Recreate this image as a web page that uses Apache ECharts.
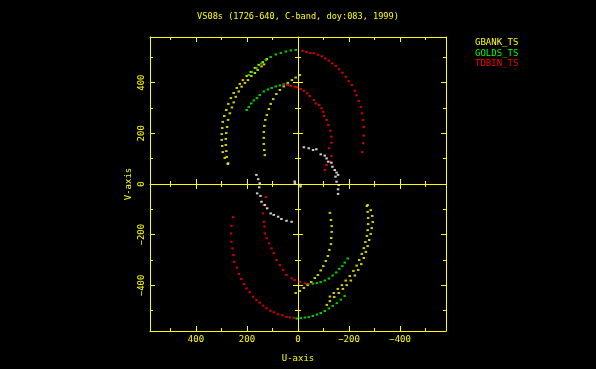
<!DOCTYPE html>
<html>
<head>
<meta charset="utf-8">
<script src="https://cdn.jsdelivr.net/npm/echarts@6/dist/echarts.min.js"></script>
<style>
html,body{margin:0;padding:0;background:#000;}
#chart{width:596px;height:369px;}
</style>
</head>
<body>
<div id="chart"></div>
<script>
// ---- Data (u, v) ----
const titleText = 'VS08s (1726-640, C-band, doy:083, 1999)';
const seriesNames = ['GBANK_TS', 'GOLDS_TS', 'TDBIN_TS'];
const majorTicks = [-400, -200, 0, 200, 400];
const minorTicks = [-500, -300, -100, 100, 300, 500];

// GBANK_TS (yellow)
const gbankOuterUpper = [[275,79],[287,103],[295,126],[297,150],[299,174],[299,197],[297,221],[295,245],[289,268],[281,292],[273,316],[263,339],[252,359],[240,379],[228,395],[216,410],[201,426],[185,442],[169,458],[154,470],[138,481],[122,493]];
const gbankOuterUpper2 = [[274,82],[279,107],[281,130],[283,154],[283,178],[281,201],[278,225],[274,253],[267,279],[259,302],[252,322],[244,344],[232,365],[221,384],[208,399],[196,410],[183,426],[169,438],[158,450],[143,464],[133,472]];
const gbankInnerUpper = [[130,114],[132,134],[134,158],[134,182],[134,205],[132,229],[128,253],[122,272],[114,296],[107,316],[97,335],[85,355],[71,371],[56,385],[40,399],[24,410],[9,420],[-7,430]];
const gbankInnerLower = [[-125,-114],[-129,-142],[-132,-166],[-132,-189],[-130,-213],[-129,-237],[-123,-260],[-117,-284],[-109,-304],[-99,-324],[-89,-341],[-78,-359],[-66,-371],[-52,-387],[-38,-399],[-23,-410],[-7,-422],[9,-430]];
const gbankOuterLower = [[-273,-83],[-285,-103],[-291,-126],[-293,-150],[-289,-174],[-285,-197],[-279,-221],[-273,-245],[-266,-268],[-258,-292],[-248,-316],[-236,-339],[-223,-361],[-207,-381],[-191,-399],[-176,-414],[-160,-430],[-142,-446],[-125,-462],[-113,-477]];
const gbankOuterLower2 = [[-270,-87],[-273,-110],[-275,-134],[-275,-158],[-273,-182],[-270,-205],[-264,-229],[-258,-253],[-250,-276],[-240,-300],[-230,-322],[-217,-343],[-203,-363],[-187,-381],[-172,-399],[-156,-414],[-140,-430],[-125,-444]];

// GOLDS_TS (green)
const goldsOuterUpper = [[193,430],[181,442],[163,458],[144,475],[126,489],[107,501],[87,511],[67,517],[48,523],[28,527],[9,529]];
const goldsInnerUpper = [[201,292],[193,304],[183,318],[173,330],[161,339],[150,351],[134,365],[118,373],[103,379],[87,385],[71,389],[56,393],[40,395]];
const goldsInnerLower = [[-38,-395],[-58,-393],[-74,-391],[-89,-387],[-105,-381],[-121,-373],[-136,-361],[-150,-349],[-162,-335],[-174,-324],[-183,-310],[-195,-294]];
const goldsOuterLower = [[5,-531],[-11,-529],[-27,-527],[-42,-525],[-58,-521],[-74,-515],[-89,-509],[-105,-501],[-121,-491],[-136,-481],[-152,-470],[-168,-456],[-183,-442]];

// TDBIN_TS (red)
const tdbinOuterUpper = [[-18,526],[-33,521],[-49,517],[-62,516],[-79,510],[-94,504],[-107,495],[-121,487],[-134,476],[-148,466],[-161,453],[-174,439],[-187,423],[-199,406],[-211,391],[-223,368],[-229,350],[-238,328],[-246,304],[-251,279],[-255,253],[-258,225],[-258,191],[-255,161],[-251,126]];
const tdbinOuterLower = [[254,-131],[261,-165],[262,-195],[261,-228],[257,-254],[253,-280],[250,-307],[239,-330],[232,-355],[222,-375],[212,-395],[202,-412],[189,-427],[176,-445],[163,-458],[150,-468],[137,-480],[123,-490],[108,-500],[95,-506],[78,-514],[62,-518],[45,-524],[32,-526],[16,-528]];
const tdbinInnerUpper = [[56,393],[40,391],[28,387],[13,384],[4,382],[-10,375],[-23,368],[-36,358],[-46,347],[-62,331],[-70,318],[-83,312],[-92,299],[-98,285],[-102,268],[-112,253],[-118,233],[-127,210],[-131,187],[-131,163],[-122,141],[-131,110],[-125,88],[-112,75],[-105,55]];
const tdbinInnerLower = [[126,-51],[134,-83],[137,-116],[134,-149],[131,-168],[130,-195],[123,-214],[113,-234],[104,-254],[95,-273],[84,-300],[71,-320],[58,-339],[45,-359],[25,-372],[13,-379],[-7,-386],[-27,-392],[-42,-395]];

// Unlabelled short baseline (white)
const whiteUpper = [[-23,145],[-42,141],[-59,134],[-72,137],[-89,117],[-105,112],[-112,101],[-118,88],[-131,84],[-135,68],[-144,55],[-151,45],[-157,36],[-147,29],[-151,9],[-160,-4],[-157,-21],[-157,-39]];
const whiteLower = [[163,36],[156,19],[150,3],[152,-13],[160,-37],[147,-47],[143,-70],[130,-83],[121,-96],[107,-116],[95,-122],[78,-129],[65,-138],[45,-145],[25,-149]];
const whiteCentre = [[13,10],[12,3],[-9,-3],[-10,-10]];

// ---- Chart ----
const YEL = '#ffff00', GRN = '#00ff00', RED = '#ff0000', WHT = '#ffffff';
const FONT = 'DejaVu Sans Mono';
const MIN = -580, MAX = 580;
const fmt = v => String(v).replace('-', '\u2212');

function frameAxis(pos, opts) {
  return Object.assign({
    type: 'value', gridIndex: 0, position: pos, min: MIN, max: MAX,
    axisLine: { show: false, onZero: false, lineStyle: { color: YEL, width: 1 } },
    axisTick: { show: true, inside: true, length: 5, customValues: majorTicks, lineStyle: { color: YEL, width: 1 } },
    axisLabel: { show: false },
    splitLine: { show: false }
  }, opts);
}
function xA(pos, opts) { return frameAxis(pos, Object.assign({ inverse: true }, opts)); }
function yA(pos, opts) { return frameAxis(pos, opts); }

const xAxes = [
  xA('bottom', {
    axisLine: { show: true, onZero: false, lineStyle: { color: YEL, width: 1 } },
    axisLabel: { show: true, customValues: majorTicks, formatter: fmt, color: YEL, fontFamily: FONT, fontSize: 9, margin: 4 },
    name: 'U-axis', nameLocation: 'middle', nameGap: 23,
    nameTextStyle: { color: YEL, fontFamily: FONT, fontSize: 9 }
  }),
  xA('bottom', { axisTick: { show: true, inside: true, length: 3, customValues: minorTicks, lineStyle: { color: YEL } } }),
  xA('top', { axisLine: { show: true, onZero: false, lineStyle: { color: YEL, width: 1 } } }),
  xA('top', { axisTick: { show: true, inside: true, length: 3, customValues: minorTicks, lineStyle: { color: YEL } } }),
  // zero line (v = 0)
  xA('bottom', { offset: -147, axisLine: { show: true, onZero: false, lineStyle: { color: YEL, width: 1 } }, axisTick: { show: false } }),
  xA('bottom', { offset: -142, axisTick: { show: true, inside: true, length: 10, customValues: majorTicks, lineStyle: { color: YEL } } }),
  xA('bottom', { offset: -144, axisTick: { show: true, inside: true, length: 6, customValues: minorTicks, lineStyle: { color: YEL } } })
];
const yAxes = [
  yA('left', {
    axisLine: { show: true, onZero: false, lineStyle: { color: YEL, width: 1 } },
    axisLabel: { show: true, customValues: majorTicks, formatter: fmt, rotate: 90, color: YEL, fontFamily: FONT, fontSize: 9, margin: 4 },
    name: 'V-axis', nameLocation: 'middle', nameGap: 17, nameRotate: 90,
    nameTextStyle: { color: YEL, fontFamily: FONT, fontSize: 9 }
  }),
  yA('left', { axisTick: { show: true, inside: true, length: 3, customValues: minorTicks, lineStyle: { color: YEL } } }),
  yA('right', { axisLine: { show: true, onZero: false, lineStyle: { color: YEL, width: 1 } } }),
  yA('right', { axisTick: { show: true, inside: true, length: 3, customValues: minorTicks, lineStyle: { color: YEL } } }),
  // zero line (u = 0)
  yA('left', { offset: -148, axisLine: { show: true, onZero: false, lineStyle: { color: YEL, width: 1 } }, axisTick: { show: false } }),
  yA('left', { offset: -143, axisTick: { show: true, inside: true, length: 10, customValues: majorTicks, lineStyle: { color: YEL } } }),
  yA('left', { offset: -145, axisTick: { show: true, inside: true, length: 6, customValues: minorTicks, lineStyle: { color: YEL } } })
];

function sc(name, color, data) {
  return {
    name: name, type: 'scatter', xAxisIndex: 0, yAxisIndex: 0,
    symbol: 'rect', symbolSize: [2.5, 2], data: data,
    itemStyle: { color: color }, silent: true, animation: false
  };
}

const option = {
  backgroundColor: '#000',
  animation: false,
  title: {
    text: titleText, left: 'center', top: 7,
    textStyle: { color: YEL, fontFamily: FONT, fontSize: 8.6, fontWeight: 'normal' }
  },
  legend: {
    orient: 'vertical', left: 465, top: 33,
    itemWidth: 0, itemHeight: 10, itemGap: 0.5, selectedMode: false,
    icon: 'none',
    textStyle: { fontFamily: FONT, fontSize: 9, lineHeight: 10, padding: 0 },
    data: [
      { name: seriesNames[0], icon: 'none', textStyle: { color: YEL } },
      { name: seriesNames[1], icon: 'none', textStyle: { color: GRN } },
      { name: seriesNames[2], icon: 'none', textStyle: { color: RED } }
    ]
  },
  grid: { left: 150, right: 150, top: 37, bottom: 38, containLabel: false, outerBoundsMode: 'none' },
  xAxis: xAxes,
  yAxis: yAxes,
  series: [
    sc(seriesNames[0], YEL, [].concat(gbankOuterUpper, gbankOuterUpper2, gbankInnerUpper, gbankInnerLower, gbankOuterLower, gbankOuterLower2)),
    sc(seriesNames[1], GRN, [].concat(goldsOuterUpper, goldsInnerUpper, goldsInnerLower, goldsOuterLower)),
    sc(seriesNames[2], RED, [].concat(tdbinOuterUpper, tdbinOuterLower, tdbinInnerUpper, tdbinInnerLower)),
    sc('', WHT, [].concat(whiteUpper, whiteLower, whiteCentre))
  ]
};

const chart = echarts.init(document.getElementById('chart'), null, { renderer: 'canvas' });
chart.setOption(option);
</script>
</body>
</html>
